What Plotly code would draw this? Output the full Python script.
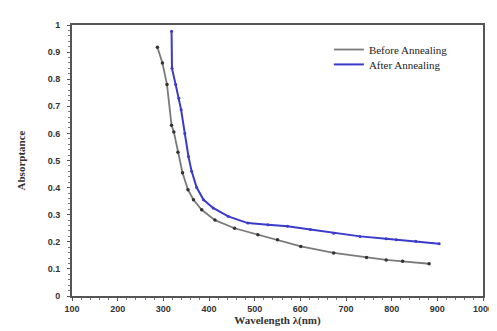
import plotly.graph_objects as go

# Before annealing (gray line, black markers)
before_wl = [287, 298, 308, 318, 323, 332, 342, 354, 366, 384, 413, 456, 507, 550, 601, 673, 745, 788, 824, 882]
before_abs = [0.918, 0.86, 0.78, 0.63, 0.605, 0.53, 0.455, 0.392, 0.355, 0.318, 0.28, 0.25, 0.226, 0.208, 0.183, 0.159, 0.142, 0.133, 0.128, 0.119]

# After annealing (blue)
after_wl = [318, 319, 327, 334, 339, 347, 355, 362, 373, 388, 409, 442, 485, 529, 572, 622, 673, 731, 788, 810, 853, 904]
after_abs = [0.977, 0.84, 0.78, 0.73, 0.687, 0.60, 0.515, 0.46, 0.40, 0.355, 0.325, 0.294, 0.269, 0.263, 0.257, 0.245, 0.232, 0.22, 0.211, 0.208, 0.202, 0.193]

x_ticks = [100, 200, 300, 400, 500, 600, 700, 800, 900, 1000]
x_ticklabels = ["100", "200", "300", "400", "500", "600", "700", "800", "900", "1000"]
y_ticks = [0, 0.1, 0.2, 0.3, 0.4, 0.5, 0.6, 0.7, 0.8, 0.9, 1]
y_ticklabels = ["0", "0.1", "0.2", "0.3", "0.4", "0.5", "0.6", "0.7", "0.8", "0.9", "1"]

GRAY = "#7a7a7a"
BLUE = "#3a3acb"

fig = go.Figure()
fig.add_trace(go.Scatter(
    x=before_wl, y=before_abs, mode="lines", name="Before Annealing",
    line=dict(color=GRAY, width=1.8), legend="legend",
))
fig.add_trace(go.Scatter(
    x=before_wl, y=before_abs, mode="markers", showlegend=False,
    marker=dict(color="#333333", size=3.5, symbol="circle"),
))
fig.add_trace(go.Scatter(
    x=after_wl, y=after_abs, mode="lines", name="After Annealing",
    line=dict(color=BLUE, width=2), legend="legend2",
))
fig.add_trace(go.Scatter(
    x=after_wl, y=after_abs, mode="markers", showlegend=False,
    marker=dict(color=BLUE, size=3, symbol="circle"),
))

axis_common = dict(
    showline=True, linecolor="#555555", linewidth=2, mirror=True,
    showgrid=False, zeroline=False, ticks="outside", ticklen=3, tickcolor="#555555",
    tickfont=dict(family="Liberation Sans", size=9, color="#333333", weight="bold"),
)

legend_common = dict(
    xanchor="left", yanchor="top", bgcolor="rgba(0,0,0,0)", itemwidth=30,
    font=dict(family="Liberation Serif", size=11, color="#222222"),
)

fig.update_layout(
    width=497, height=331,
    margin=dict(l=62, r=16, t=17, b=43),
    paper_bgcolor="white", plot_bgcolor="white",
    xaxis=dict(
        range=[100, 1000], tickvals=x_ticks, ticktext=x_ticklabels,
        minor=dict(ticks="outside", ticklen=2, dtick=20, tickcolor="#777777"),
        title=dict(text="Wavelength λ(nm)", standoff=3,
                   font=dict(family="Liberation Serif", size=11, color="#333333", weight="bold")),
        **axis_common,
    ),
    yaxis=dict(
        range=[0, 1], tickvals=y_ticks, ticktext=y_ticklabels,
        minor=dict(ticks="outside", ticklen=2, dtick=0.02, tickcolor="#777777"),
        ticklabelstandoff=5,
        title=dict(text="Absorptance", standoff=20,
                   font=dict(family="Liberation Serif", size=11, color="#333333", weight="bold")),
        **axis_common,
    ),
    legend=dict(x=0.625, y=0.963, **legend_common),
    legend2=dict(x=0.625, y=0.908, **legend_common),
    showlegend=True,
)

fig.write_html("out.html")
